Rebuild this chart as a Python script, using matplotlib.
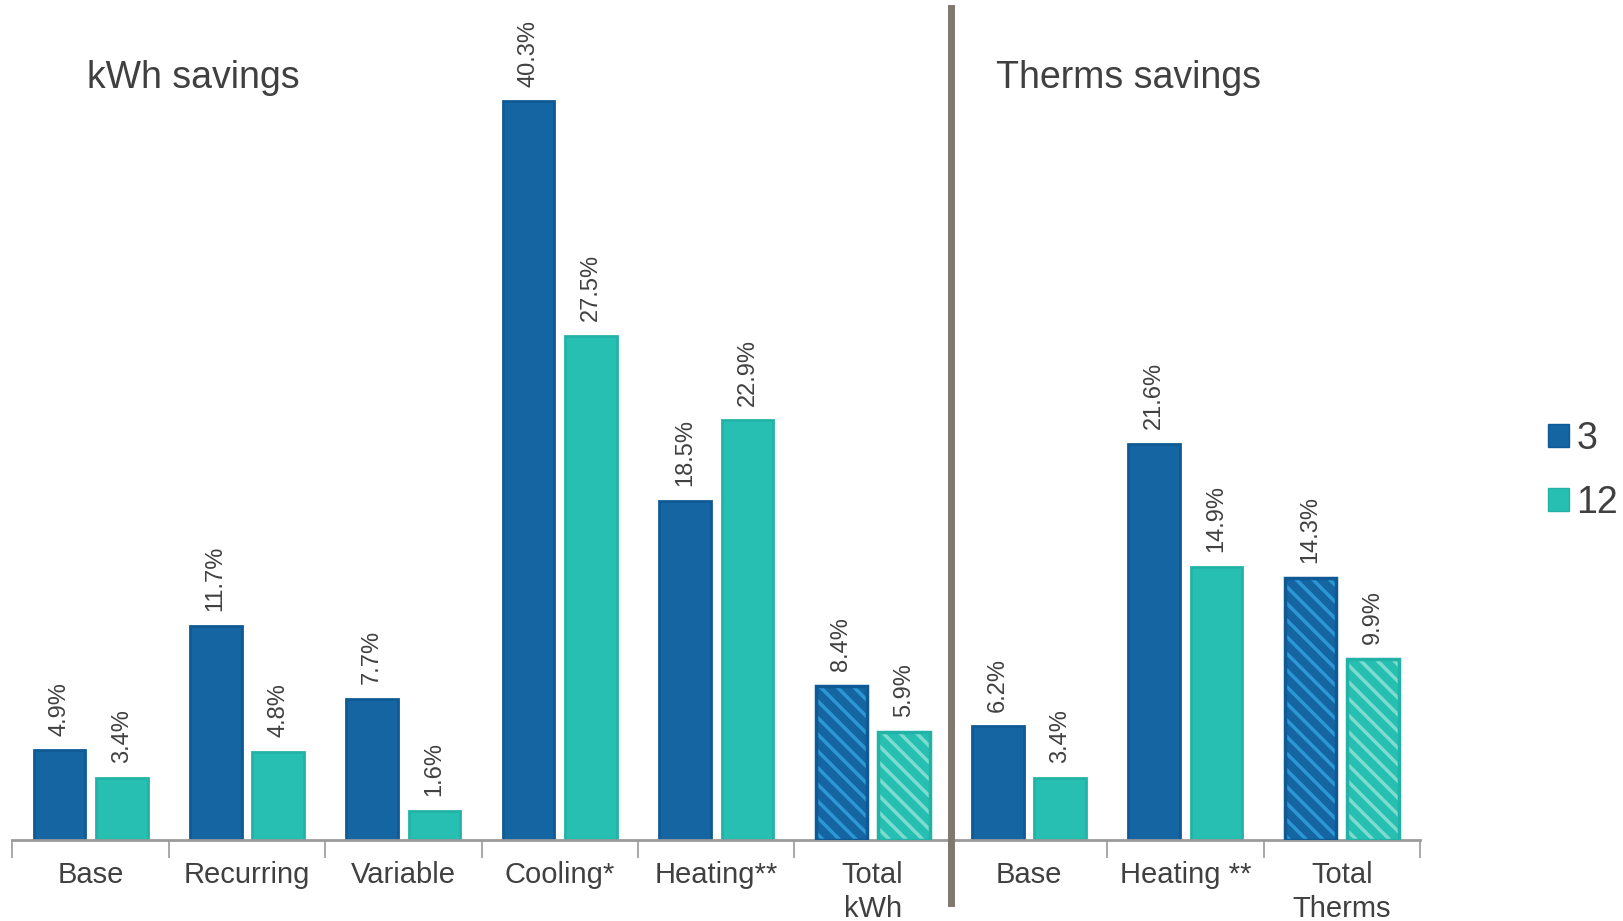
import numpy as np
import matplotlib.pyplot as plt
from matplotlib.patches import Patch

plt.rcParams['font.family'] = ['Liberation Sans', 'DejaVu Sans']
plt.rcParams['hatch.linewidth'] = 2.5

categories = ['Base', 'Recurring', 'Variable', 'Cooling*', 'Heating**',
              'Total\nkWh', 'Base', 'Heating **', 'Total\nTherms']
savings_3 = [4.9, 11.7, 7.7, 40.3, 18.5, 8.4, 6.2, 21.6, 14.3]
savings_12 = [3.4, 4.8, 1.6, 27.5, 22.9, 5.9, 3.4, 14.9, 9.9]
totals = [5, 8]  # hatched "Total" groups

BLUE = '#1565a3'
BLUE_EDGE = '#0f5a94'
BLUE_HATCH = '#2b98d3'
TEAL = '#27bfb2'
TEAL_EDGE = '#22b3a6'
TEAL_HATCH = '#7edccf'
GREY = '#9a9a9a'
TEXT = '#404040'

fig = plt.figure(figsize=(16.23, 9.21), dpi=100)
ax = fig.add_axes([12.4 / 1623, 81 / 921, (1420 - 12.4) / 1623, 840 / 921])

x = np.arange(len(categories))
w = 0.33
off = 0.2

for vals, dx, fc, ec, hc in [(savings_3, -off, BLUE, BLUE_EDGE, BLUE_HATCH),
                             (savings_12, off, TEAL, TEAL_EDGE, TEAL_HATCH)]:
    for i, v in enumerate(vals):
        if i in totals:
            ax.bar(x[i] + dx, v, w, color=fc, edgecolor=hc, linewidth=0,
                   hatch='\\\\', zorder=2)
            ax.bar(x[i] + dx, v, w, color='none', edgecolor=ec,
                   linewidth=2.5, zorder=3)
        else:
            ax.bar(x[i] + dx, v, w, color=fc, edgecolor=ec,
                   linewidth=2, zorder=2)
        ax.text(x[i] + dx, v + 0.8, f'{v:.1f}%', rotation=90,
                ha='center', va='bottom', fontsize=17, color=TEXT)

ax.set_xlim(-0.5, 8.5)
ax.set_ylim(0, 840 / 18.33)

for s in ['top', 'right', 'left']:
    ax.spines[s].set_visible(False)
ax.spines['bottom'].set_color(GREY)
ax.spines['bottom'].set_linewidth(2)
ax.set_yticks([])

ax.set_xticks(x)
ax.set_xticklabels(categories, fontsize=21, color=TEXT, va='top',
                   linespacing=1.3)
ax.set_xticks(np.arange(-0.5, 9, 1), minor=True)
ax.tick_params(axis='x', which='major', length=0, pad=15)
ax.tick_params(axis='x', which='minor', length=13, width=1.2, color=GREY)

# divider between electricity and gas sections
ax.axvline(5.5, ymin=-0.075, ymax=0.99, color='#7f786f', linewidth=5,
           clip_on=False, zorder=4)

fig.text(87 / 1623, 1 - 78 / 921, 'kWh savings', fontsize=27,
         color=TEXT, va='center', ha='left')
fig.text(996 / 1623, 1 - 78 / 921, 'Therms savings', fontsize=27,
         color=TEXT, va='center', ha='left')

handles = [Patch(facecolor=BLUE, edgecolor=BLUE_EDGE, label='3'),
           Patch(facecolor=TEAL, edgecolor=TEAL_EDGE, label='12')]
fig.legend(handles=handles, loc='center left',
           bbox_to_anchor=(1548 / 1623, 1 - 471 / 921), frameon=False,
           fontsize=27, handlelength=0.55, handleheight=0.55,
           handletextpad=0.2, labelspacing=0.75, labelcolor=TEXT,
           borderaxespad=0, borderpad=0)

fig.savefig('out.png', dpi=100)
